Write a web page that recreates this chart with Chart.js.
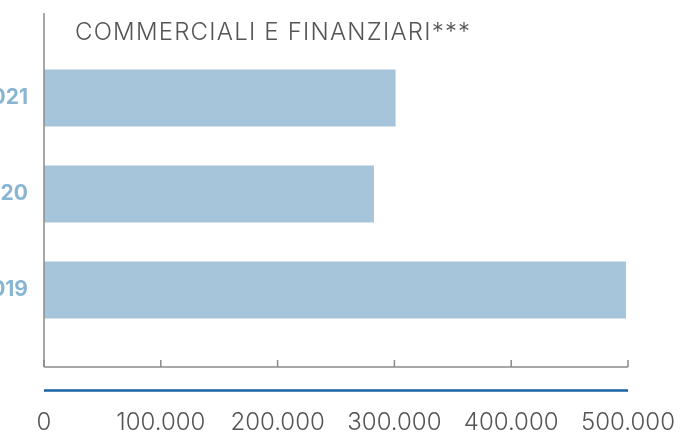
<!DOCTYPE html>
<html>
<head>
<meta charset="utf-8">
<script src="https://cdn.jsdelivr.net/npm/chart.js@4.4.1/dist/chart.umd.min.js"></script>
<style>
  html, body { margin: 0; padding: 0; background: #ffffff; }
  #wrap { width: 690px; height: 432px; position: relative; }
</style>
</head>
<body>
<div id="wrap"><canvas id="c" width="690" height="432"></canvas></div>
<script>
const categories = ['2021', '2020', '2019'];
const values = [301000, 282500, 498300];
const xTickLabels = ['0', '100.000', '200.000', '300.000', '400.000', '500.000'];
const chartTitle = 'COMMERCIALI E FINANZIARI***';

const decor = {
  id: 'decor',
  afterDraw(chart) {
    const ctx = chart.ctx;
    const a = chart.chartArea;
    const xs = chart.scales.x;
    ctx.save();
    // title
    ctx.fillStyle = '#555555';
    ctx.font = '300 24px Inter';
    try { ctx.letterSpacing = '1.2px'; } catch (e) {}
    ctx.textBaseline = 'alphabetic';
    ctx.textAlign = 'left';
    ctx.fillText(chartTitle, 75, 40);
    try { ctx.letterSpacing = '0px'; } catch (e) {}
    // left axis line
    ctx.strokeStyle = '#8a8a8a';
    ctx.lineWidth = 1.5;
    ctx.beginPath();
    ctx.moveTo(a.left, a.top - 37);
    ctx.lineTo(a.left, a.bottom + 29);
    ctx.stroke();
    // bottom axis line with inward ticks
    const yb = a.bottom + 29;
    ctx.beginPath();
    ctx.moveTo(a.left, yb);
    ctx.lineTo(a.right, yb);
    xs.ticks.forEach(t => {
      const px = xs.getPixelForValue(t.value);
      ctx.moveTo(px, yb);
      ctx.lineTo(px, yb - 7);
    });
    ctx.stroke();
    // blue rule
    ctx.strokeStyle = '#1763a3';
    ctx.lineWidth = 2.5;
    ctx.beginPath();
    ctx.moveTo(a.left, yb + 23.5);
    ctx.lineTo(a.right, yb + 23.5);
    ctx.stroke();
    ctx.restore();
  }
};

new Chart(document.getElementById('c'), {
  type: 'bar',
  data: {
    labels: categories,
    datasets: [{
      data: values,
      backgroundColor: '#a7c5da',
      borderWidth: 0,
      categoryPercentage: 1,
      barPercentage: 0.594
    }]
  },
  options: {
    indexAxis: 'y',
    responsive: false,
    animation: false,
    layout: { autoPadding: false, padding: { left: 0, right: 62, top: 50, bottom: 0 } },
    plugins: { legend: { display: false }, tooltip: { enabled: false }, title: { display: false } },
    scales: {
      x: {
        min: 0, max: 500000,
        grid: { display: false, drawTicks: false },
        border: { display: false },
        afterFit(scale) { scale.height = 94; scale.paddingLeft = 0; scale.paddingRight = 0; },
        ticks: {
          stepSize: 100000,
          padding: 70,
          maxRotation: 0,
          autoSkip: false,
          color: '#555555',
          font: { family: 'Inter', size: 24, weight: '300' },
          callback: (v, i) => xTickLabels[i]
        }
      },
      y: {
        grid: { display: false, drawTicks: false },
        border: { display: false },
        afterFit(scale) { scale.width = 44; scale.paddingTop = 0; scale.paddingBottom = 0; },
        ticks: {
          padding: 16,
          color: '#88b6d2',
          font: { family: 'Inter', size: 21, weight: '700' }
        }
      }
    }
  },
  plugins: [decor]
});
</script>
</body>
</html>
